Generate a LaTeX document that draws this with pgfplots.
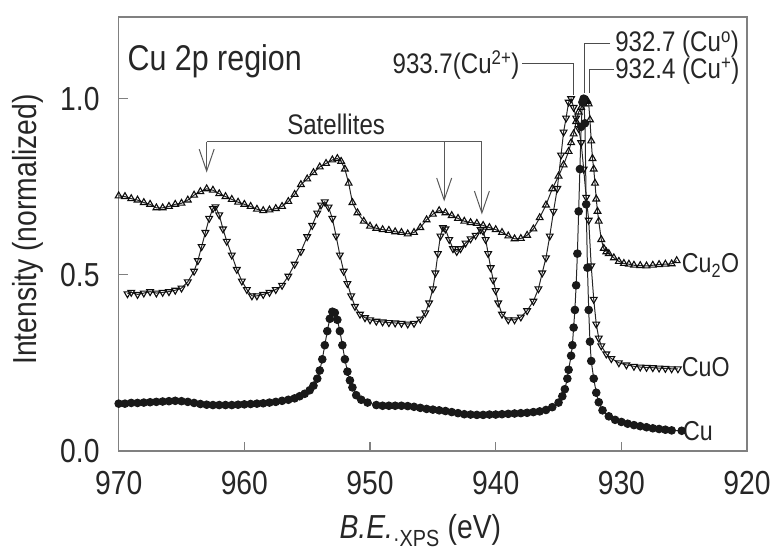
\documentclass[border=0pt]{standalone}
\usepackage{pgfplots}
\pgfplotsset{compat=1.18}
\usepackage{fontspec}
\setmainfont{Liberation Sans}[FakeStretch=0.85]
\usetikzlibrary{arrows.meta}

\newcommand{\bigf}{\fontsize{33.5}{40}\selectfont}
\newcommand{\smf}{\fontsize{28.5}{33}\selectfont}

\begin{document}
\begin{tikzpicture}
\useasboundingbox (-119bp,-102bp) rectangle (654bp,452bp);
\begin{axis}[%
at={(0,0)}, anchor=south west,
width=630bp, height=435bp, scale only axis,
x dir=reverse,
xmin=920, xmax=970,
ymin=0, ymax=1.232,
xtick={920,930,940,950,960,970},
ytick={0,0.5,1},
yticklabel={\pgfmathprintnumber[fixed,fixed zerofill,precision=1]{\tick}},
/pgf/number format/assume math mode=true,
tick align=inside, xtick pos=bottom, ytick pos=left,
major tick length=9bp,
every tick/.style={gray, line width=1.2bp},
axis line style={gray, line width=1.4bp},
ticklabel style={font=\bigf, text=black!85},
xticklabel style={inner sep=0pt, anchor=north, yshift=-20bp},
yticklabel style={inner sep=0pt, anchor=east, xshift=-19bp},
xlabel={\textit{B.E.}\textsubscript{·XPS} (eV)},
ylabel={Intensity (normalized)},
label style={font=\bigf, text=black!85},
xlabel style={at={(axis description cs:0.48,-0.203)}, anchor=base},
ylabel style={at={(axis description cs:-0.144,0.51)}, anchor=center},
clip=false,
]
% Cu2O
\addplot[black!85, line width=1bp, mark=triangle, mark size=3.9bp,
  mark options={fill=white, draw=black!95, line width=1.1bp}] coordinates {
(970.0,0.724) (969.5,0.722) (969.0,0.716) (968.5,0.712) (968.0,0.705)
(967.5,0.700) (967.0,0.690) (966.5,0.690) (966.0,0.694) (965.5,0.700)
(965.0,0.703) (964.5,0.712) (964.0,0.726) (963.5,0.736) (963.0,0.744)
(962.5,0.740) (962.0,0.730) (961.5,0.722) (961.0,0.714) (960.5,0.706)
(960.0,0.700) (959.5,0.694) (959.0,0.686) (958.5,0.682) (958.0,0.684)
(957.5,0.688) (957.0,0.694) (956.5,0.708) (956.0,0.728) (955.5,0.756)
(955.0,0.772) (954.5,0.790) (954.0,0.806) (953.5,0.816) (953.0,0.826)
(952.6,0.830) (952.3,0.822) (952.0,0.800) (951.7,0.760) (951.4,0.705)
(951.0,0.676) (950.5,0.652) (950.0,0.638) (949.5,0.632) (949.0,0.628)
(948.5,0.626) (948.0,0.622) (947.5,0.620) (947.0,0.616) (946.5,0.620)
(946.0,0.634) (945.5,0.656) (945.0,0.672) (944.5,0.682) (944.0,0.676)
(943.5,0.668) (943.0,0.660) (942.5,0.652) (942.0,0.648) (941.5,0.646)
(941.0,0.640) (940.5,0.634) (940.0,0.628) (939.5,0.620) (939.0,0.610)
(938.5,0.602) (938.0,0.603) (937.5,0.612) (937.0,0.630) (936.5,0.662)
(936.0,0.698) (935.5,0.744) (935.0,0.780) (934.6,0.812) (934.2,0.850)
(934.0,0.875) (933.8,0.900) (933.6,0.935) (933.4,0.962) (933.2,0.975)
(933.0,0.985) (932.8,0.992) (932.7,0.994) (932.6,0.985) (932.5,0.940)
(932.4,0.880) (932.3,0.830) (932.2,0.800) (932.1,0.760) (932.0,0.715)
(931.9,0.680) (931.8,0.652) (931.6,0.600) (931.4,0.575) (931.2,0.565)
(931.0,0.560) (930.6,0.548) (930.2,0.538) (929.8,0.532) (929.4,0.530)
(929.0,0.527) (928.5,0.526) (928.0,0.525) (927.5,0.527) (927.0,0.529)
(926.5,0.530) (926.0,0.531) (925.6,0.540)
};
% CuO
\addplot[black!85, line width=1bp, mark=triangle, mark size=3.9bp,
  mark options={rotate=180, fill=white, draw=black!95, line width=1.1bp}] coordinates {
(969.3,0.446) (969.0,0.450) (968.5,0.444) (968.0,0.448) (967.5,0.452)
(967.0,0.448) (966.5,0.450) (966.0,0.452) (965.5,0.456) (965.0,0.462)
(964.5,0.480) (964.0,0.510) (963.7,0.540) (963.4,0.580) (963.1,0.620)
(962.8,0.660) (962.5,0.688) (962.3,0.693) (962.0,0.670) (961.7,0.630)
(961.4,0.595) (961.0,0.556) (960.6,0.515) (960.2,0.482) (959.8,0.458)
(959.4,0.440) (959.0,0.440) (958.5,0.444) (958.0,0.450) (957.5,0.458)
(957.0,0.470) (956.5,0.496) (956.0,0.530) (955.5,0.566) (955.0,0.608)
(954.6,0.640) (954.2,0.675) (953.9,0.698) (953.6,0.707) (953.3,0.692)
(953.0,0.660) (952.7,0.610) (952.4,0.556) (952.1,0.510) (951.8,0.475)
(951.5,0.440) (951.2,0.410) (950.8,0.388) (950.4,0.378) (950.0,0.372)
(949.5,0.368) (949.0,0.366) (948.5,0.364) (948.0,0.363) (947.5,0.362)
(947.0,0.360) (946.5,0.362) (946.0,0.374) (945.6,0.392) (945.3,0.420)
(945.0,0.460) (944.8,0.505) (944.6,0.560) (944.4,0.610) (944.2,0.634)
(944.0,0.630) (943.7,0.600) (943.4,0.574) (943.1,0.566) (942.8,0.574)
(942.4,0.590) (942.0,0.602) (941.6,0.612) (941.2,0.628) (941.0,0.624)
(940.8,0.600) (940.6,0.560) (940.4,0.520) (940.2,0.485) (940.0,0.455)
(939.8,0.420) (939.5,0.388) (939.0,0.372) (938.5,0.372) (938.0,0.380)
(937.5,0.398) (937.0,0.425) (936.6,0.460) (936.3,0.505) (936.0,0.548)
(935.7,0.610) (935.4,0.680) (935.1,0.745) (934.8,0.840) (934.6,0.905)
(934.4,0.945) (934.2,0.990) (934.0,1.000) (933.8,0.975) (933.6,0.945)
(933.4,0.915) (933.2,0.875) (933.0,0.800) (932.8,0.720) (932.6,0.655)
(932.4,0.525) (932.2,0.430) (932.0,0.360) (931.8,0.320) (931.6,0.298)
(931.2,0.275) (930.8,0.262) (930.2,0.250) (929.6,0.244) (929.0,0.240)
(928.5,0.238) (928.0,0.237) (927.5,0.236) (927.0,0.235) (926.5,0.234)
(926.0,0.233) (925.5,0.233)
};
% Cu
\addplot[black!85, line width=1bp, mark=*, mark size=3.8bp,
  mark options={fill=black!90, draw=black!90}] coordinates {
(970.0,0.134) (969.5,0.134) (969.0,0.136) (968.5,0.136) (968.0,0.137)
(967.5,0.138) (967.0,0.139) (966.5,0.140) (966.0,0.141) (965.5,0.142)
(965.0,0.141) (964.5,0.139) (964.0,0.136) (963.5,0.133) (963.0,0.131)
(962.5,0.130) (962.0,0.130) (961.5,0.130) (961.0,0.130) (960.5,0.131)
(960.0,0.132) (959.5,0.133) (959.0,0.134) (958.5,0.135) (958.0,0.137)
(957.5,0.139) (957.0,0.142) (956.5,0.145) (956.0,0.149) (955.6,0.155)
(955.2,0.162) (954.8,0.172) (954.5,0.185) (954.2,0.205) (954.0,0.228)
(953.8,0.260) (953.6,0.300) (953.4,0.340) (953.2,0.375) (953.0,0.395)
(952.8,0.392) (952.6,0.372) (952.4,0.340) (952.2,0.300) (952.0,0.260)
(951.8,0.225) (951.6,0.200) (951.4,0.180) (951.1,0.158) (950.7,0.145)
(950.2,0.137) (949.5,0.130) (949.0,0.128) (948.5,0.128) (948.0,0.128)
(947.5,0.128) (947.0,0.127) (946.5,0.125) (946.0,0.122) (945.5,0.119)
(945.0,0.117) (944.5,0.115) (944.0,0.113) (943.5,0.110) (943.0,0.107)
(942.5,0.104) (942.0,0.103) (941.5,0.102) (941.0,0.102) (940.5,0.103)
(940.0,0.103) (939.5,0.104) (939.0,0.105) (938.5,0.106) (938.0,0.107)
(937.5,0.108) (937.0,0.110) (936.5,0.112) (936.0,0.116) (935.5,0.124)
(935.0,0.137) (934.7,0.155) (934.5,0.175) (934.3,0.205) (934.2,0.230)
(934.0,0.270) (933.9,0.300) (933.8,0.350) (933.7,0.400) (933.6,0.470)
(933.5,0.560) (933.4,0.680) (933.3,0.800) (933.2,0.920) (933.1,0.990)
(933.0,1.000) (932.9,0.930) (932.8,0.700) (932.7,0.520) (932.6,0.400)
(932.5,0.310) (932.4,0.255) (932.2,0.205) (932.0,0.165) (931.8,0.138)
(931.5,0.115) (931.0,0.098) (930.5,0.088) (930.0,0.082) (929.5,0.077)
(929.0,0.073) (928.5,0.070) (928.0,0.067) (927.5,0.064) (927.0,0.062)
(926.5,0.060) (926.0,0.058) (925.2,0.057)
};
% annotations
\node[anchor=base west, font=\fontsize{36}{42}\selectfont, text=black!85, inner sep=0pt]
  at (axis cs:969.3,1.079) {Cu 2p region};
\node[anchor=base, font=\smf, text=black!85, inner sep=0pt]
  at (axis cs:952.7,0.898) {Satellites};
\draw[black!65, line width=1bp, -{Straight Barb[length=22bp,width=15bp,line width=1bp]}]
  (axis cs:963.0,0.878) -- (axis cs:963.0,0.790);
\draw[black!65, line width=1bp] (axis cs:963.0,0.878) -- (axis cs:941.1,0.878);
\draw[black!65, line width=1bp, -{Straight Barb[length=22bp,width=15bp,line width=1bp]}]
  (axis cs:944.1,0.878) -- (axis cs:944.1,0.708);
\draw[black!65, line width=1bp, -{Straight Barb[length=22bp,width=15bp,line width=1bp]}]
  (axis cs:941.1,0.878) -- (axis cs:941.1,0.671);
\draw[black!70, line width=1bp] (axis cs:937.9,1.100) -- (axis cs:933.8,1.100) -- (axis cs:933.8,1.011);
\draw[black!70, line width=1bp] (axis cs:930.9,1.157) -- (axis cs:932.9,1.157) -- (axis cs:932.9,1.017);
\draw[black!70, line width=1bp] (axis cs:930.6,1.084) -- (axis cs:932.5,1.084) -- (axis cs:932.5,1.017);
\node[anchor=base east, font=\smf, text=black!85, inner sep=0pt]
  at (axis cs:938.1,1.071) {933.7(Cu\textsuperscript{2+})};
\node[anchor=base west, font=\smf, text=black!85, inner sep=0pt]
  at (axis cs:930.5,1.133) {932.7 (Cu\textsuperscript{o})};
\node[anchor=base west, font=\smf, text=black!85, inner sep=0pt]
  at (axis cs:930.5,1.057) {932.4 (Cu\textsuperscript{+})};
\node[anchor=base west, font=\fontsize{27.5}{32}\selectfont, text=black!85, inner sep=0pt]
  at (axis cs:925.2,0.507) {Cu\textsubscript{2}O};
\node[anchor=base west, font=\fontsize{27.5}{32}\selectfont, text=black!85, inner sep=0pt]
  at (axis cs:925.2,0.212) {CuO};
\node[anchor=base west, font=\fontsize{27.5}{32}\selectfont, text=black!85, inner sep=0pt]
  at (axis cs:925.1,0.028) {Cu};
\end{axis}
\end{tikzpicture}
\end{document}
